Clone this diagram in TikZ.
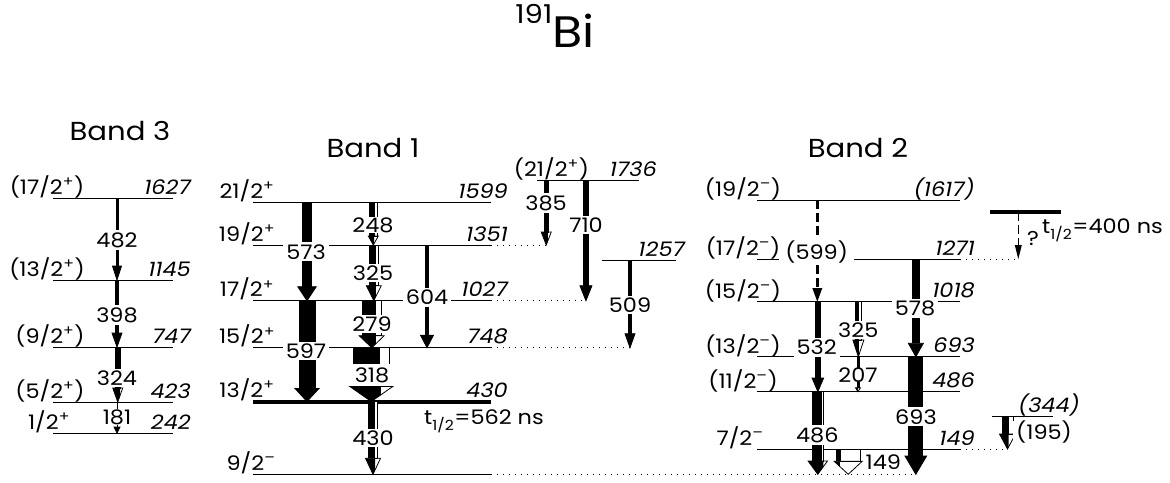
\documentclass[tikz,border=0pt]{standalone}
\usepackage{fontspec}
\setmainfont{Poppins}[FakeStretch=1.12]
\usetikzlibrary{positioning,calc}

\newcommand{\lbl}{\fontsize{20}{22}\selectfont}

% gamma arrow: left x, top y, tip y, black width, white width, head width, head length
\newcommand{\trans}[7]{%
  \pgfmathsetmacro{\gxs}{#1+#4}%
  \pgfmathsetmacro{\gxr}{#1+#4+#5}%
  \pgfmathsetmacro{\gxc}{#1+0.5*(#4+#5)}%
  \pgfmathsetmacro{\ghy}{#3-#7}%
  \pgfmathsetmacro{\ghl}{\gxc-0.5*#6}%
  \pgfmathsetmacro{\ghr}{\gxc+0.5*#6}%
  \pgfmathsetmacro{\ghs}{\ghl+#6*#4/(#4+#5)}%
  \fill (#1,#2) rectangle (\gxs,\ghy);
  \ifdim #5pt>0pt \draw[wline, fill=white] (\gxs,#2) rectangle (\gxr,\ghy); \fi
  \begin{scope}
    \clip (\ghl,\ghy) rectangle (\ghs,#3);
    \fill (\ghl,\ghy) -- (\ghr,\ghy) -- (\gxc,#3) -- cycle;
  \end{scope}
  \draw[wline] (\ghl,\ghy) -- (\ghr,\ghy) -- (\gxc,#3) -- cycle;
}
% dashed arrow: centre x, top y, tip y, line width, head width, head length
\newcommand{\dtrans}[6]{%
  \draw[line width=#4pt, dash pattern=on 9pt off 4pt] (#1,#2) -- (#1,{#3-#6});
  \fill ({#1-0.5*#5},{#3-#6}) -- ({#1+0.5*#5},{#3-#6}) -- (#1,#3) -- cycle;
}

\begin{document}
\begin{tikzpicture}[
    x=1pt, y=-1pt,
    lev/.style={line width=1pt},
    isolev/.style={line width=4pt},
    ext/.style={line width=1pt, dash pattern=on 1.2pt off 4.8pt},
    wline/.style={line width=0.8pt, line join=miter},
    spin/.style={anchor=base, font=\lbl, inner sep=0pt},
    en/.style={anchor=base east, font=\lbl\itshape, inner sep=0pt},
    gl/.style={fill=white, font=\lbl, inner xsep=3pt, inner ysep=2pt},
    band/.style={font=\fontsize{26}{28}\selectfont}
]
\useasboundingbox (0,0) rectangle (1170,482);

% title
\node[anchor=base] (title) at (555,47) {{\fontsize{26}{26}\selectfont\raisebox{24pt}{191}}{\fontsize{44}{44}\selectfont Bi}};

% band titles
\node[band] (band3) at (120,131) {Band 3};
\node[band] (band1) at (373,148) {Band 1};
\node[band] (band2) at (858,148) {Band 2};

% Band 3 levels
\foreach \y/\sp/\sx/\en [count=\i] in {198/{(17/2\textsuperscript{+})}/47/1627, 280/{(13/2\textsuperscript{+})}/47/1145,
    347/{(9/2\textsuperscript{+})}/50/747, 402/{(5/2\textsuperscript{+})}/50/423, 433/{1/2\textsuperscript{+}}/49/242} {
  \draw[lev] (53,\y) -- (173,\y);
  \node[spin] (sa\i) at (\sx,\y-3.5) {\sp};
  \node[en] (ea\i) at (191,\y-4) {\en};
}

% Band 1 levels
\foreach \y/\sp/\en [count=\i] in {202.5/{21/2\textsuperscript{+}}/1599, 245/{19/2\textsuperscript{+}}/1351,
    300.7/{17/2\textsuperscript{+}}/1027, 347.7/{15/2\textsuperscript{+}}/748} {
  \draw[lev] (253,\y) -- (491,\y);
  \node[spin] (sb\i) at (247,\y-4) {\sp};
  \node[en] (eb\i) at (508,\y-4) {\en};
}
\draw[isolev] (253,401.5) -- (491,401.5);
\node[spin] (sb5) at (247,397.5) {13/2\textsuperscript{+}};
\node[en] (eb5) at (508,397.5) {430};
\draw[lev] (253,474.3) -- (491,474.3);
\node[spin] (sb6) at (251,470.3) {9/2\textsuperscript{–}};
\draw[lev] (537,180) -- (639,180);
\node[spin] (sb7) at (551.5,176) {(21/2\textsuperscript{+})};
\node[en] (eb7) at (657,176) {1736};
\draw[lev] (602,260.7) -- (676,260.7);
\node[en] (eb8) at (685,256.7) {1257};

% dotted continuations
\draw[ext] (491,245) -- (546,245);
\draw[ext] (491,300.7) -- (586,300.7);
\draw[ext] (491,347.7) -- (630,347.7);
\draw[ext] (491,474.3) -- (917,474.3);
\draw[ext] (960,259) -- (1018,259);
\draw[ext] (960,449) -- (1007,449);

% Band 2 levels
\foreach \y/\sp/\en [count=\i] in {200/{(19/2\textsuperscript{–})}/(1617), 259/{(17/2\textsuperscript{–})}/1271,
    301.7/{(15/2\textsuperscript{–})}/1018, 356.7/{(13/2\textsuperscript{–})}/693, 391.7/{(11/2\textsuperscript{–})}/486} {
  \draw[lev] (757,\y) -- (960,\y);
  \node[spin] (sc\i) at (743,\y-3.5) {\sp};
  \node[en] (ec\i) at (975,\y-4) {\en};
}
\draw[lev] (757,449) -- (960,449);
\node[spin] (sc6) at (740,445) {7/2\textsuperscript{–}};
\node[en] (ec6) at (975,445) {149};

% isomer and (344) level
\draw[isolev] (990,211.7) -- (1061,211.7);
\draw[lev] (991.7,416.7) -- (1053.3,416.7);
\node[en] (ec7) at (1080,412.7) {(344)};

% Band 3 transitions
\trans{115.5}{198}{280}{3}{0}{9}{14}
\trans{115}{280}{347}{4}{0}{10}{14}
\trans{115}{347}{402}{4}{1.5}{10}{14}
\trans{116.5}{402}{433}{1}{0}{6}{6}

% Band 1 transitions
\trans{301.7}{202.5}{300.7}{10.6}{0}{18.5}{14}
\trans{298.5}{300.7}{401.5}{17}{0}{24}{13}
\trans{369.3}{202.5}{245}{4.7}{3.3}{10}{9}
\trans{369.3}{245}{300.7}{5.7}{3.3}{15}{15}
\trans{361.7}{300.7}{347.7}{13.3}{6.7}{25}{12}
\trans{353.3}{347.7}{401.5}{26}{10}{43}{15}
\trans{368.3}{401.5}{474.3}{6}{3.4}{15}{16}
\trans{425}{245}{347.7}{4}{0}{13}{12.5}
\trans{544}{180}{245}{3}{1.5}{10}{13}
\trans{583.3}{180}{300.7}{5.3}{0}{12}{15}
\trans{628}{260.7}{347.7}{4}{0}{10}{14}

% Band 2 transitions
\dtrans{817.3}{200}{301.7}{3}{10}{13.7}
\trans{815}{301.7}{391.7}{5.7}{0}{11.6}{13.7}
\trans{812.3}{391.7}{474.3}{8.7}{2.3}{19.4}{13.3}
\trans{855}{301.7}{356.7}{3.7}{3}{11}{16.7}
\trans{856.5}{356.7}{391.7}{1.5}{1.5}{5}{4}
\trans{911.7}{259}{356.7}{8.3}{0}{15}{13.4}
\trans{908.3}{356.7}{474.3}{15}{0}{21.7}{18.3}
\trans{835.7}{449}{474.3}{5}{20}{28}{13}
\dtrans{1018.3}{211.7}{259}{1}{7}{14}
\trans{1001.7}{416.7}{449}{6.6}{5}{16}{15}

% gamma energies
\node[gl] (g482) at (117,240) {482};
\node[gl] (g398) at (117,315) {398};
\node[gl] (g324) at (117,378) {324};
\node[gl, inner ysep=0pt] (g181) at (117,417) {181};
\node[gl] (g573) at (306,251.7) {573};
\node[gl] (g597) at (306,351) {597};
\node[gl, inner ysep=0pt] (g248) at (373,225) {248};
\node[gl] (g325a) at (373,273) {325};
\node[gl] (g279) at (372,324) {279};
\node[gl, minimum width=42pt, minimum height=22pt] (g318) at (372,375) {318};
\node[gl] (g430) at (373,438) {430};
\node[gl] (g604) at (427,297.5) {604};
\node[gl] (g385) at (546,203) {385};
\node[gl] (g710) at (586,225) {710};
\node[gl] (g509) at (630,305) {509};
\node[gl, inner xsep=6pt] (g599) at (816.7,251.7) {(599)};
\node[gl] (g532) at (816.7,347.3) {532};
\node[gl] (g486) at (817.3,435) {486};
\node[gl] (g325b) at (858.3,330) {325};
\node[gl, inner ysep=0pt] (g207) at (858,375) {207};
\node[gl] (g578) at (915,308.3) {578};
\node[gl] (g693) at (916,416.7) {693};
\node[gl, inner ysep=0pt] (g149) at (883.3,462) {149};
\node[gl, inner ysep=0pt] (g195) at (1044,431.7) {(195)};

% half-lives
\node[font=\lbl, anchor=west, inner sep=0pt] (t562) at (424,421.7) {t\textsubscript{1/2}=562 ns};
\node[font=\lbl, inner sep=0pt] (qm) at (1033,238) {?};
\node[font=\lbl, anchor=west, inner sep=0pt] (t400) at (1042,230) {t\textsubscript{1/2}=400 ns};

\end{tikzpicture}
\end{document}
